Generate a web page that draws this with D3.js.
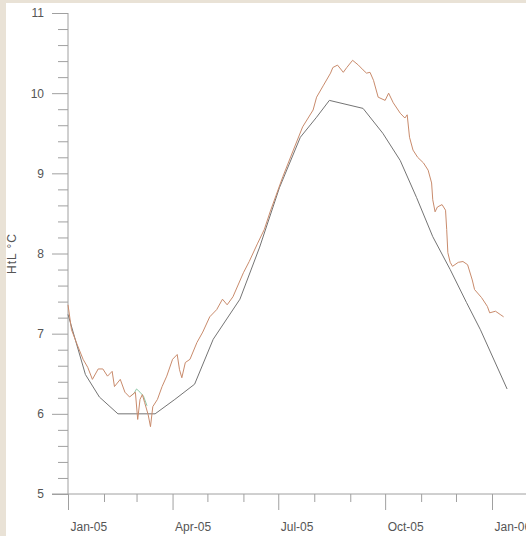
<!DOCTYPE html>
<html>
<head>
<meta charset="utf-8">
<script src="https://cdn.jsdelivr.net/npm/d3@7"></script>
<style>
  body { margin: 0; background: #e9e2d6; }
  .axis text { font-family: Arial, "Liberation Sans", sans-serif; font-size: 12px; fill: #555; }
  .axis line { stroke: #a0a0a0; }
</style>
</head>
<body>
<script>
// modelled temperature (smooth curve)
var modelDates = ["2005-01-01", "2005-01-16", "2005-01-28", "2005-02-13", "2005-03-17", "2005-04-03",
  "2005-04-20", "2005-05-06", "2005-05-29", "2005-06-15", "2005-07-02", "2005-07-20", "2005-08-03",
  "2005-08-14", "2005-09-12", "2005-09-29", "2005-10-14", "2005-10-28", "2005-11-11", "2005-11-26",
  "2005-12-10", "2005-12-22", "2006-01-14"];
var modelValues = [7.24, 6.49, 6.21, 6.0, 6.0, 6.18, 6.37, 6.93, 7.43, 8.08, 8.82, 9.45, 9.70,
  9.91, 9.81, 9.50, 9.16, 8.70, 8.21, 7.80, 7.39, 7.05, 6.31];

// measured temperature (noisy curve)
var obsDates = ["2005-01-01", "2005-01-04", "2005-01-09", "2005-01-14", "2005-01-18", "2005-01-22",
  "2005-01-27", "2005-01-31", "2005-02-04", "2005-02-08", "2005-02-10", "2005-02-15", "2005-02-19",
  "2005-02-23", "2005-02-28", "2005-03-02", "2005-03-04", "2005-03-06", "2005-03-08", "2005-03-11",
  "2005-03-13", "2005-03-15", "2005-03-19", "2005-03-23", "2005-03-27", "2005-04-01", "2005-04-05",
  "2005-04-07", "2005-04-09", "2005-04-12", "2005-04-16", "2005-04-22", "2005-04-27", "2005-05-03",
  "2005-05-09", "2005-05-14", "2005-05-18", "2005-05-23", "2005-06-01", "2005-06-06", "2005-06-13",
  "2005-06-19", "2005-06-24", "2005-06-29", "2005-07-05", "2005-07-14", "2005-07-22", "2005-07-31",
  "2005-08-03", "2005-08-09", "2005-08-15", "2005-08-17", "2005-08-21", "2005-08-26", "2005-08-29",
  "2005-09-03", "2005-09-08", "2005-09-12", "2005-09-15", "2005-09-18", "2005-09-21", "2005-09-25",
  "2005-10-01", "2005-10-04", "2005-10-08", "2005-10-14", "2005-10-18", "2005-10-20", "2005-10-22",
  "2005-10-25", "2005-10-29", "2005-11-03", "2005-11-07", "2005-11-10", "2005-11-11", "2005-11-13",
  "2005-11-15", "2005-11-19", "2005-11-22", "2005-11-23", "2005-11-24", "2005-11-26", "2005-11-28",
  "2005-12-03", "2005-12-07", "2005-12-11", "2005-12-15", "2005-12-17", "2005-12-23", "2005-12-28",
  "2005-12-30", "2006-01-04", "2006-01-08", "2006-01-11"];
var obsValues = [7.36, 7.05, 6.86, 6.68, 6.58, 6.43,
  6.56, 6.56, 6.47, 6.53, 6.34, 6.43, 6.27,
  6.21, 6.27, 5.93, 6.18, 6.24, 6.14, 5.99,
  5.84, 6.09, 6.18, 6.34, 6.47, 6.68, 6.74,
  6.55, 6.45, 6.64, 6.68, 6.89, 7.02, 7.21,
  7.30, 7.43, 7.36, 7.46, 7.76, 7.90, 8.12,
  8.30, 8.52, 8.72, 8.96, 9.29, 9.58, 9.79,
  9.95, 10.10, 10.25, 10.32, 10.35, 10.26, 10.32,
  10.41, 10.35, 10.29, 10.25, 10.26, 10.16, 9.95,
  9.91, 10.00, 9.88, 9.75, 9.69, 9.73, 9.45,
  9.29, 9.20, 9.13, 9.04, 8.88, 8.67, 8.52,
  8.58, 8.61, 8.54, 8.30, 8.01, 7.89, 7.84,
  7.89, 7.90, 7.86, 7.67, 7.55, 7.45, 7.34,
  7.26, 7.28, 7.24, 7.21];

// second sensor, visible only where it leaves the first one
var obs2Dates = ["2005-02-24", "2005-02-27", "2005-03-01", "2005-03-04", "2005-03-07", "2005-03-10"];
var obs2Values = [6.22, 6.26, 6.31, 6.27, 6.22, 6.10];

var yTicks = [5, 6, 7, 8, 9, 10, 11];
var xTicks = ["2005-01-01", "2005-04-01", "2005-07-01", "2005-10-01", "2006-01-01"];
var yLabel = "HtL °C";

var parse = d3.timeParse("%Y-%m-%d");
var W = 526, H = 536;

var svg = d3.select("body").append("svg")
  .attr("width", W)
  .attr("height", H)
  .style("display", "block");

// white paper with the beige frame left and top
svg.append("rect")
  .attr("x", 6).attr("y", 3)
  .attr("width", W - 6).attr("height", H - 3)
  .attr("fill", "#fff");

var xScale = d3.scaleTime()
  .domain([parse("2005-01-01"), parse("2006-01-01")])
  .range([68, 492]);
var yScale = d3.scaleLinear()
  .domain([5, 11])
  .range([494, 13]);

var minorY = d3.range(50, 111, 2).map(function (d) { return d / 10; })
  .filter(function (d) { return yTicks.indexOf(d) < 0; });
var minorX = d3.timeMonth.range(parse("2005-01-01"), parse("2006-01-15"))
  .filter(function (d) { return d.getMonth() % 3 !== 0; });

// y axis
svg.append("g")
  .attr("class", "axis")
  .attr("transform", "translate(" + xScale.range()[0] + ",0)")
  .call(d3.axisLeft(yScale).tickValues(minorY).tickSize(10).tickFormat(""))
  .select(".domain").remove();
var ya = svg.append("g")
  .attr("class", "axis")
  .attr("transform", "translate(" + xScale.range()[0] + ",0)")
  .call(d3.axisLeft(yScale).tickValues(yTicks).tickSize(16).tickPadding(8).tickFormat(d3.format("d")));
ya.select(".domain").remove();
svg.append("line")
  .attr("x1", xScale.range()[0]).attr("x2", xScale.range()[0])
  .attr("y1", yScale(5)).attr("y2", yScale(11))
  .attr("stroke", "#a0a0a0");

// x axis
svg.append("g")
  .attr("class", "axis")
  .attr("transform", "translate(0," + yScale(5) + ")")
  .call(d3.axisBottom(xScale).tickValues(minorX).tickSize(8).tickFormat(""))
  .select(".domain").remove();
var xa = svg.append("g")
  .attr("class", "axis")
  .attr("transform", "translate(0," + yScale(5) + ")")
  .call(d3.axisBottom(xScale).tickValues(xTicks.map(parse)).tickSize(16).tickFormat(d3.timeFormat("%b-%y")));
xa.select(".domain").remove();
xa.selectAll("text")
  .style("text-anchor", "start")
  .attr("x", 2)
  .attr("y", 28);
svg.append("line")
  .attr("x1", xScale.range()[0] - 16).attr("x2", W)
  .attr("y1", yScale(5)).attr("y2", yScale(5))
  .attr("stroke", "#a0a0a0");

svg.append("text")
  .attr("transform", "translate(16," + yScale(8) + ") rotate(-90)")
  .style("text-anchor", "middle")
  .style("font-family", "Arial, sans-serif")
  .style("font-size", "12px")
  .style("letter-spacing", "1px")
  .style("fill", "#555")
  .text(yLabel);

var line = d3.line()
  .x(function (d) { return xScale(d.date); })
  .y(function (d) { return yScale(d.value); });

function series(dates, values) {
  return dates.map(function (d, i) { return { date: parse(d), value: values[i] }; });
}

svg.append("path")
  .datum(series(modelDates, modelValues))
  .attr("d", line)
  .attr("fill", "none")
  .attr("stroke", "#747474")
  .attr("stroke-width", 1);

svg.append("path")
  .datum(series(obs2Dates, obs2Values))
  .attr("d", line)
  .attr("fill", "none")
  .attr("stroke", "#8fc9a8")
  .attr("stroke-width", 1);

svg.append("path")
  .datum(series(obsDates, obsValues))
  .attr("d", line)
  .attr("fill", "none")
  .attr("stroke", "#c98b6c")
  .attr("stroke-width", 1);
</script>
</body>
</html>
